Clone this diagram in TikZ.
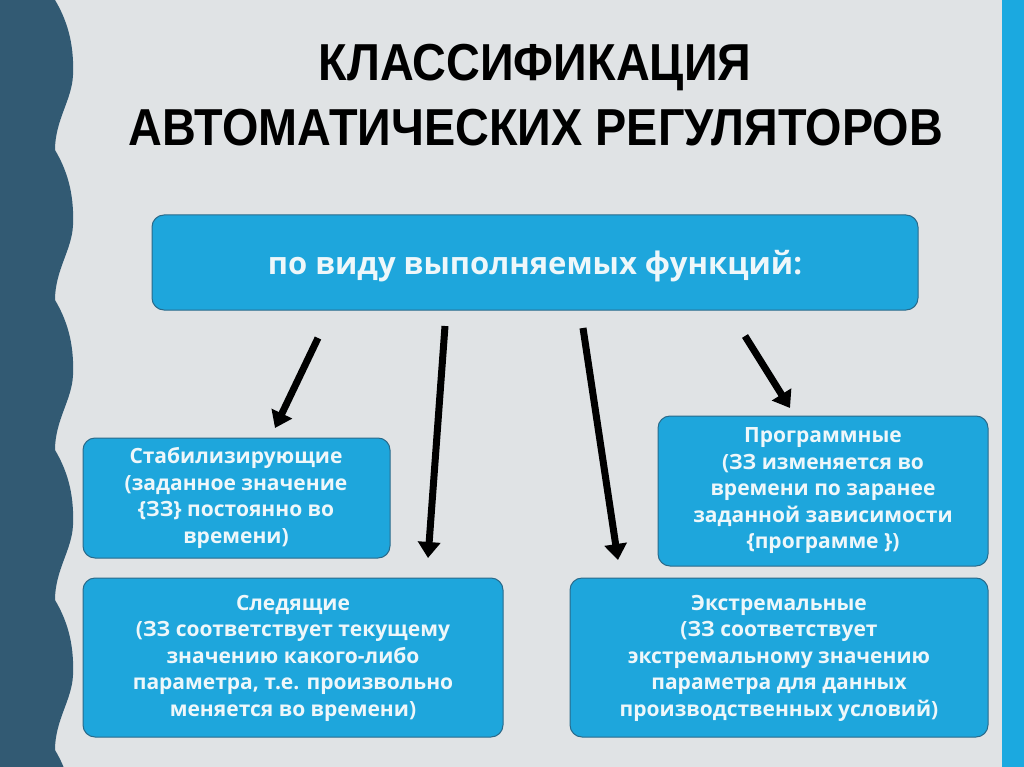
\documentclass[tikz,border=0pt]{standalone}
\usepackage{fontspec}
\setmainfont{Open Sans}
\newfontfamily\titlef{Liberation Sans}
\usetikzlibrary{arrows.meta}
\definecolor{bg}{HTML}{E0E3E5}
\definecolor{slate}{HTML}{325A73}
\definecolor{strip}{HTML}{1BA9E0}
\definecolor{boxf}{HTML}{1EA6DC}
\definecolor{boxd}{HTML}{2A6A8A}
\definecolor{txt}{HTML}{EEF7FA}
\tikzset{
  bx/.style={draw=boxd, line width=1pt, fill=boxf, rounded corners=12pt},
  bt/.style={text=txt, align=center, font=\fontsize{21}{26.5}\selectfont\bfseries},
  arr/.style={line width=7pt, -{Triangle[length=16pt,width=22pt]}},
}
\begin{document}
\begin{tikzpicture}[x=1pt,y=-1pt]
\useasboundingbox (0,0) rectangle (1024,767);
\fill[bg] (0,0) rectangle (1024,767);
\fill[strip] (1002,0) rectangle (1024,767);
\fill[slate] (0,0) -- (55,0)
  \foreach \k in {0,...,5} { .. controls (70,{\k*150+25}) and (74,{\k*150+50}) .. (73,{\k*150+75}) .. controls (72,{\k*150+100}) and (55,{\k*150+120}) .. (55,{\k*150+150}) }
  -- (55,767) -- (0,767) -- cycle;
\node (t1) at (535,68) {\titlef\bfseries\fontsize{52}{56}\selectfont\scalebox{0.9}[1]{КЛАССИФИКАЦИЯ}};
\node (t2) at (536,128) {\titlef\bfseries\fontsize{52}{56}\selectfont\scalebox{0.9}[1]{АВТОМАТИЧЕСКИХ РЕГУЛЯТОРОВ}};
\draw[bx] (152,215) rectangle (918,310);
\node[bt, font=\fontsize{31}{36}\selectfont\bfseries] (top) at (535,266) {по виду выполняемых функций:};
\draw[bx] (83,438) rectangle (390,558);
\node[bt] (s) at (236,498) {Стабилизирующие\\(заданное значение\\\{ЗЗ\} постоянно во\\времени)};
\draw[bx] (658,416) rectangle (988,566);
\node[bt] (p) at (823,491) {Программные\\(ЗЗ изменяется во\\времени по заранее\\заданной зависимости\\\{программе \})};
\draw[bx] (83,578) rectangle (503,737);
\node[bt] (f) at (293,658) {Следящие\\(ЗЗ соответствует текущему\\значению какого-либо\\параметра, т.е. произвольно\\меняется во времени)};
\draw[bx] (570,578) rectangle (988,737);
\node[bt] (e) at (779,658) {Экстремальные\\(ЗЗ соответствует\\экстремальному значению\\параметра для данных\\производственных условий)};
\coordinate (a1) at (318,338); \coordinate (b1) at (275,428);
\coordinate (a2) at (445,326); \coordinate (b2) at (428,558);
\coordinate (a3) at (583,328); \coordinate (b3) at (618,560);
\coordinate (a4) at (745,336); \coordinate (b4) at (790,408);
\draw[arr] (a1) -- (b1);
\draw[arr] (a2) -- (b2);
\draw[arr] (a3) -- (b3);
\draw[arr] (a4) -- (b4);
\end{tikzpicture}
\end{document}
